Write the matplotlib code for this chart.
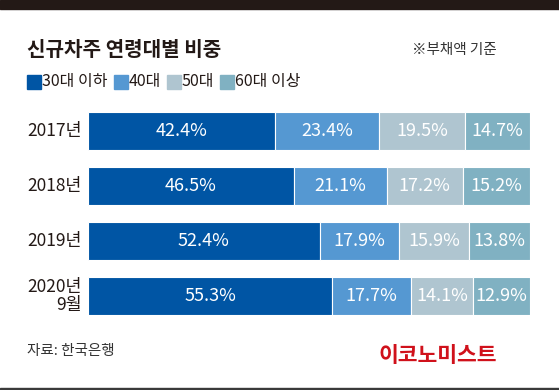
import matplotlib
matplotlib.use("Agg")
import matplotlib.pyplot as plt
from matplotlib.patches import Rectangle
import numpy as np

plt.rcParams['font.family'] = ['Noto Sans CJK KR', 'DejaVu Sans']

# data
years = ["2017년", "2018년", "2019년", "2020년\n9월"]
groups = ["30대 이하", "40대", "50대", "60대 이상"]
under30 = [42.4, 46.5, 52.4, 55.3]
age40 = [23.4, 21.1, 17.9, 17.7]
age50 = [19.5, 17.2, 15.9, 14.1]
over60 = [14.7, 15.2, 13.8, 12.9]
colors = ["#0055a4", "#5598d2", "#afc5d0", "#80b1c2"]

W, H = 559, 390
fig = plt.figure(figsize=(W / 100, H / 100), dpi=100)

# top dark band and bottom rule
fig.patches.append(Rectangle((0, 1 - 9 / H), 1, 9 / H, transform=fig.transFigure,
                             color="#231916", zorder=0))
fig.patches.append(Rectangle((0, 0), 1, 2 / H, transform=fig.transFigure,
                             color="#3a3a3a", zorder=0))

# bars area
x0, x1 = 88, 530
ytop, ybot = 112, 315
ax = fig.add_axes([x0 / W, 1 - ybot / H, (x1 - x0) / W, (ybot - ytop) / H])

series = [under30, age40, age50, over60]
y = np.arange(len(years))
left = np.zeros(len(years))
for vals, c in zip(series, colors):
    vals = np.array(vals)
    ax.barh(y, vals, left=left, height=0.69, color=c, edgecolor="white", linewidth=0.8)
    for yi, (l, v) in enumerate(zip(left, vals)):
        ax.text(l + v / 2, yi, f"{v}%", ha="center", va="center", color="white",
                fontsize=13)
    left += vals

ax.set_xlim(0, 100)
ax.set_ylim(3 + 0.345, -0.345)
ax.axis("off")

for yi, lab in enumerate(years):
    ax.text(-1.4, yi, lab, ha="right", va="center", fontsize=12.5, color="#231916",
            linespacing=0.95)

# title and note
fig.text(27 / W, 1 - 49 / H, "신규차주 연령대별 비중", fontsize=14.5, fontweight="heavy",
         color="#231916", va="center", ha="left")
fig.text(497 / W, 1 - 50 / H, "※부채액 기준", fontsize=10.5, color="#333333",
         va="center", ha="right")

# legend
lx = 27
for g, c in zip(groups, colors):
    fig.patches.append(Rectangle((lx / W, 1 - 89 / H), 14 / W, 14 / H,
                                 transform=fig.transFigure, color=c))
    t = fig.text((lx + 15) / W, 1 - 81.5 / H, g, fontsize=11.5, color="#231916",
                 va="center", ha="left")
    fig.canvas.draw()
    bb = t.get_window_extent()
    lx = bb.x1 + 6

# source and logo
fig.text(27 / W, 1 - 351 / H, "자료: 한국은행", fontsize=10.5, color="#333333",
         va="center", ha="left")
fig.text(497 / W, 1 - 356 / H, "이코노미스트", fontsize=15.5, fontweight="heavy",
         color="#d0111b", va="center", ha="right")

fig.savefig("out.png", dpi=100)
